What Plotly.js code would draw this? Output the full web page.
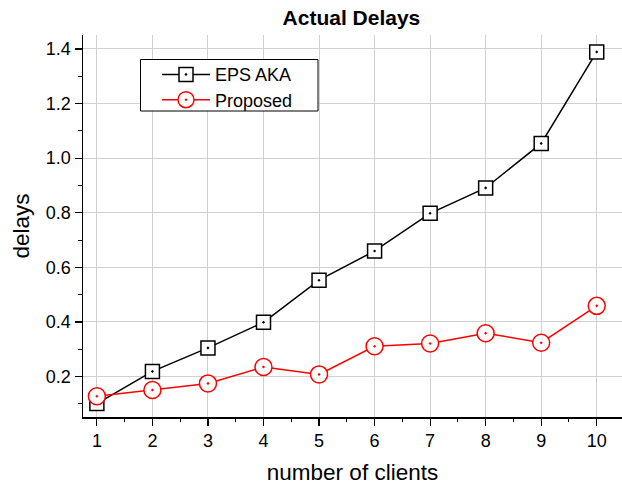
<!DOCTYPE html>
<html>
<head>
<meta charset="utf-8">
<script src="https://cdn.plot.ly/plotly-3.0.1.min.js"></script>
<style>html,body{margin:0;padding:0;background:#fff;}#chart{width:622px;height:486px;}</style>
</head>
<body>
<div id="chart"></div>
<script>
const clients = [1, 2, 3, 4, 5, 6, 7, 8, 9, 10];
const epsAka = [0.101, 0.219, 0.305, 0.399, 0.553, 0.660, 0.798, 0.891, 1.054, 1.389];
const proposed = [0.128, 0.151, 0.175, 0.235, 0.208, 0.311, 0.321, 0.359, 0.324, 0.459];
const seriesNames = ['EPS AKA', 'Proposed'];

const font = 'Liberation Sans, Arial, Helvetica, sans-serif';

const W = 622, H = 486, ML = 83, MR = 0, MT = 35, MB = 69;
const PW = W - ML - MR, PH = H - MT - MB;
const px2x = p => (p - ML) / PW;
const px2y = p => (H - MB - p) / PH;

const traces = [
  {
    x: clients, y: epsAka, name: seriesNames[0], type: 'scatter', mode: 'lines+markers',
    legend: 'legend',
    line: {color: '#000', width: 1.5},
    marker: {symbol: 'square-dot', size: 14, color: '#fff', line: {color: '#000', width: 1.5}}
  },
  {
    x: clients, y: proposed, name: seriesNames[1], type: 'scatter', mode: 'lines+markers',
    legend: 'legend2',
    line: {color: '#ff0000', width: 1.5},
    marker: {symbol: 'circle-dot', size: 17, color: '#fff', line: {color: '#ff0000', width: 1.5}}
  }
];

const legendBase = {
  xanchor: 'left', yanchor: 'middle',
  bgcolor: 'rgba(0,0,0,0)', borderwidth: 0,
  font: {family: font, size: 18, color: '#000'},
  itemwidth: 48
};

const layout = {
  width: W, height: H,
  margin: {l: ML, r: MR, t: MT, b: MB, pad: 0},
  paper_bgcolor: '#fff', plot_bgcolor: '#fff',
  font: {family: font, size: 18, color: '#000'},
  title: {text: '<b>Actual Delays</b>', font: {family: font, size: 21, color: '#000'},
          x: 0.565, xanchor: 'center', y: 0.963, yanchor: 'middle'},
  showlegend: true,
  shapes: [{
    type: 'rect', xref: 'paper', yref: 'paper',
    x0: px2x(140.5), x1: px2x(318), y0: px2y(111), y1: px2y(59.5),
    line: {color: '#000', width: 1}, fillcolor: '#fff', layer: 'above'
  }],
  legend: Object.assign({}, legendBase, {x: px2x(157), y: px2y(74.7)}),
  legend2: Object.assign({}, legendBase, {x: px2x(157), y: px2y(100)}),
  xaxis: {
    range: [0.75, 10.455],
    tickmode: 'linear', tick0: 1, dtick: 1,
    ticks: 'outside', ticklen: 7, tickwidth: 1.2, tickcolor: '#000',
    minor: {dtick: 0.5, ticks: 'outside', ticklen: 3, tickwidth: 1, tickcolor: '#000', showgrid: false},
    showline: true, linecolor: '#000', linewidth: 1.5,
    showgrid: true, gridcolor: '#d0d0d0', gridwidth: 1,
    zeroline: false,
    tickfont: {family: font, size: 18, color: '#000'},
    title: {text: 'number of clients', font: {family: font, size: 22.5, color: '#000'}, standoff: 14}
  },
  yaxis: {
    range: [0.052, 1.451],
    tickmode: 'linear', tick0: 0.2, dtick: 0.2, tickformat: '.1f',
    ticks: 'outside', ticklen: 7, tickwidth: 1.2, tickcolor: '#000',
    minor: {dtick: 0.1, ticks: 'outside', ticklen: 4, tickwidth: 1, tickcolor: '#000', showgrid: false},
    showline: true, linecolor: '#000', linewidth: 1.5,
    showgrid: true, gridcolor: '#d0d0d0', gridwidth: 1,
    zeroline: false,
    tickfont: {family: font, size: 18, color: '#000'},
    title: {text: 'delays', font: {family: font, size: 22.5, color: '#000'}, standoff: 10}
  }
};

Plotly.newPlot('chart', traces, layout, {displayModeBar: false, staticPlot: true});
</script>
</body>
</html>
